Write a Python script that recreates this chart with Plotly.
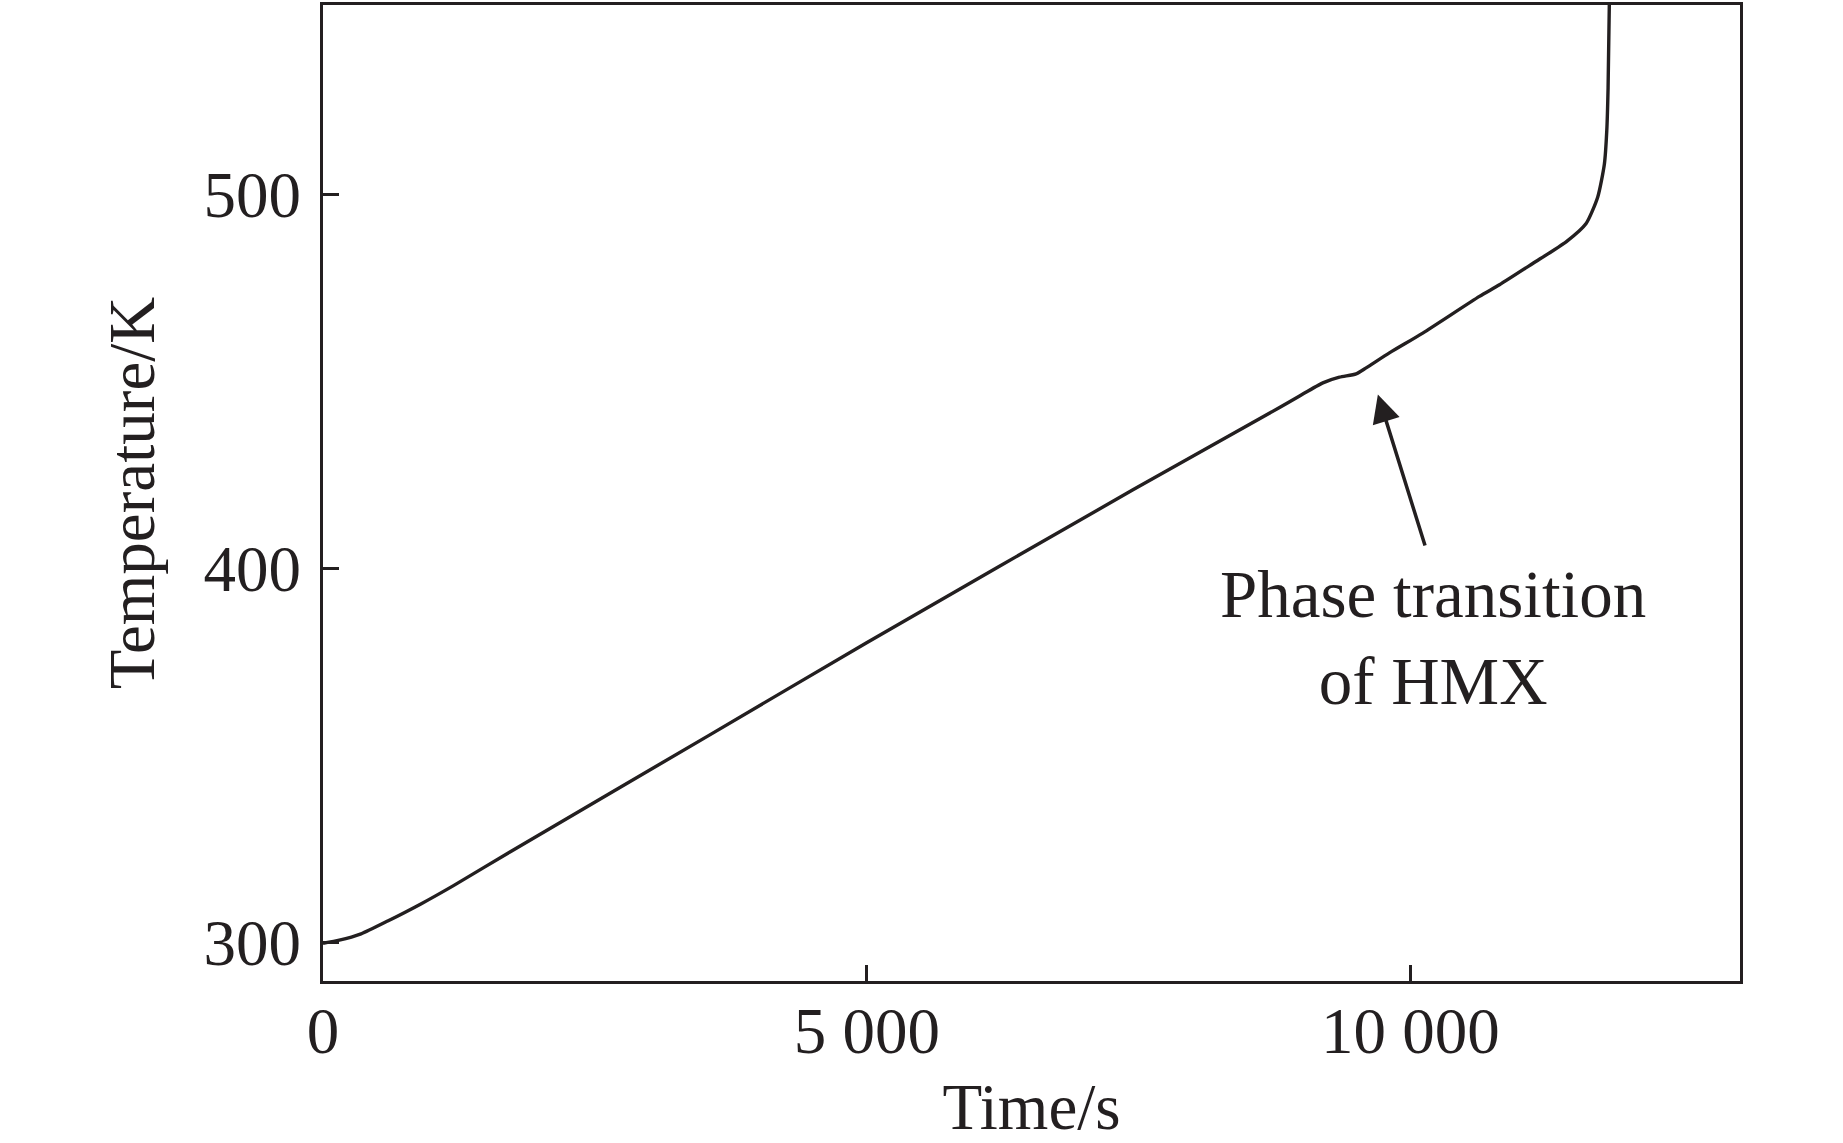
import plotly.graph_objects as go

INK = "#231f20"
FONT = "Liberation Serif, Times New Roman, serif"

# curve
time_s = [0, 150, 350, 600, 900, 1200, 1719, 3557, 4991, 7448, 8796, 8980, 9194,
          9347, 9500, 9592, 9806, 10113, 10634, 10818, 11124, 11431, 11615,
          11722, 11783, 11805, 11817, 11829]
temp_K = [299.8, 300.6, 302.3, 305.8, 310.3, 315.2, 324.2, 355.5, 380.0, 421.0,
          443.0, 446.1, 449.6, 451.1, 452.0, 453.6, 457.6, 462.9, 472.7, 475.8,
          481.5, 487.3, 492.2, 499.3, 508.1, 517.0, 528.5, 552.0]

x_ticks = [0, 5000, 10000]
x_tick_text = ["0", "5 000", "10 000"]
y_ticks = [300, 400, 500]

fig = go.Figure()
fig.add_trace(go.Scatter(
    x=time_s, y=temp_K, mode="lines",
    line=dict(color=INK, width=3.4, shape="spline", smoothing=0.6),
    showlegend=False, hoverinfo="skip",
))

fig.add_annotation(
    x=9700, y=446.5, ax=10138, ay=405.7, xref="x", yref="y", axref="x", ayref="y",
    text="", showarrow=True, arrowhead=2, arrowsize=1.6, arrowwidth=3.5, arrowcolor=INK,
)
fig.add_annotation(
    x=10211, y=381.5, xref="x", yref="y",
    text="Phase transition<br>of HMX", showarrow=False,
    font=dict(family=FONT, size=67, color=INK), align="center",
    xanchor="center", yanchor="middle",
)

axis_common = dict(
    showline=True, linecolor=INK, linewidth=3, mirror=True,
    ticks="inside", ticklen=16, tickwidth=3, tickcolor=INK,
    showgrid=False, zeroline=False,
    tickfont=dict(family=FONT, size=65, color=INK),
)

fig.update_xaxes(
    **axis_common, range=[0, 13030], tickvals=x_ticks, ticktext=x_tick_text,
    ticklabelstandoff=-9,
    title=dict(text="Time/s", font=dict(family=FONT, size=65, color=INK), standoff=22),
)
fig.update_yaxes(
    **axis_common, range=[289.7, 550.6], tickvals=y_ticks,
    ticklabelstandoff=6,
    title=dict(text="Temperature/K", font=dict(family=FONT, size=65, color=INK), standoff=28),
)

fig.update_layout(
    width=1843, height=1143,
    margin=dict(l=323, r=103, t=2, b=162),
    paper_bgcolor="white", plot_bgcolor="white",
    font=dict(family=FONT, color=INK),
)

fig.write_html(
    "out.html",
    config={"displayModeBar": False},
    post_script="document.body.style.margin = '0';",
)
